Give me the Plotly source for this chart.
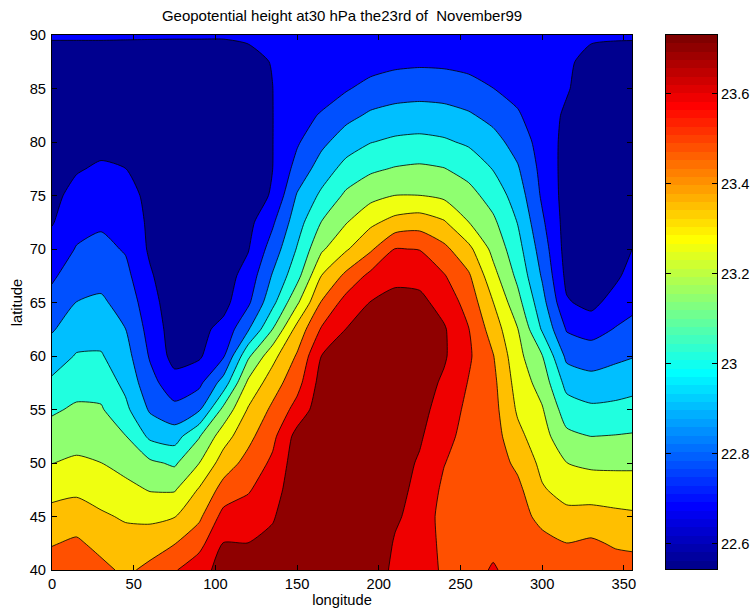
import numpy as np
import plotly.graph_objects as go

# ---------------- data ----------------
lon = [0, 15, 30, 45, 60, 75, 90, 105, 120, 135, 150, 165, 180,
       195, 210, 225, 240, 255, 270, 285, 300, 315, 330, 345, 355]
lat = [40, 42.5, 45, 47.5, 50, 52.5, 55, 57.5, 60, 62.5, 65, 67.5,
       70, 72.5, 75, 77.5, 80, 82.5, 85, 87.5, 90]

# geopotential height (km) per latitude row, columns follow `lon`
h40 = [23.560, 23.596, 23.532, 23.476, 23.531, 23.610, 23.691, 23.788, 23.800, 23.806, 23.836, 23.842, 23.848, 23.836, 23.704, 23.680, 23.602, 23.572, 23.632, 23.572, 23.566, 23.560, 23.560, 23.560, 23.554]
h42_5 = [23.492, 23.519, 23.464, 23.428, 23.445, 23.495, 23.580, 23.744, 23.741, 23.770, 23.830, 23.842, 23.848, 23.842, 23.728, 23.686, 23.590, 23.554, 23.590, 23.560, 23.536, 23.501, 23.520, 23.484, 23.475]
h45 = [23.420, 23.439, 23.397, 23.366, 23.354, 23.375, 23.476, 23.660, 23.675, 23.729, 23.824, 23.842, 23.848, 23.848, 23.758, 23.692, 23.578, 23.548, 23.572, 23.548, 23.465, 23.414, 23.421, 23.406, 23.398]
h47_5 = [23.343, 23.357, 23.328, 23.294, 23.253, 23.250, 23.391, 23.546, 23.609, 23.686, 23.818, 23.842, 23.848, 23.848, 23.776, 23.710, 23.596, 23.554, 23.566, 23.530, 23.392, 23.336, 23.328, 23.322, 23.319]
h50 = [23.258, 23.278, 23.261, 23.219, 23.162, 23.122, 23.258, 23.438, 23.540, 23.643, 23.806, 23.836, 23.848, 23.848, 23.788, 23.728, 23.624, 23.560, 23.560, 23.475, 23.349, 23.261, 23.237, 23.235, 23.236]
h52_5 = [23.193, 23.216, 23.206, 23.144, 22.995, 22.966, 23.130, 23.328, 23.466, 23.589, 23.782, 23.830, 23.842, 23.842, 23.800, 23.754, 23.662, 23.572, 23.554, 23.412, 23.309, 23.168, 23.139, 23.145, 23.151]
h55 = [23.123, 23.158, 23.152, 23.048, 22.884, 22.812, 22.883, 23.174, 23.390, 23.524, 23.663, 23.812, 23.830, 23.830, 23.806, 23.776, 23.692, 23.590, 23.542, 23.364, 23.270, 23.078, 23.043, 23.050, 23.062]
h57_5 = [23.040, 23.094, 23.092, 22.989, 22.820, 22.709, 22.750, 22.950, 23.283, 23.444, 23.577, 23.788, 23.812, 23.818, 23.812, 23.794, 23.722, 23.614, 23.530, 23.331, 23.211, 22.980, 22.944, 22.961, 22.977]
h60 = [22.964, 23.028, 23.030, 22.946, 22.768, 22.614, 22.643, 22.768, 23.117, 23.342, 23.513, 23.742, 23.782, 23.800, 23.812, 23.800, 23.754, 23.638, 23.506, 23.297, 23.145, 22.871, 22.842, 22.875, 22.893]
h62_5 = [22.889, 22.965, 22.973, 22.901, 22.737, 22.600, 22.626, 22.695, 22.886, 23.141, 23.422, 23.633, 23.742, 23.776, 23.800, 23.794, 23.752, 23.624, 23.444, 23.264, 23.007, 22.770, 22.736, 22.787, 22.810]
h65 = [22.823, 22.902, 22.918, 22.857, 22.706, 22.588, 22.612, 22.623, 22.758, 22.986, 23.240, 23.510, 23.666, 23.744, 23.776, 23.770, 23.697, 23.572, 23.382, 23.180, 22.943, 22.672, 22.624, 22.712, 22.751]
h67_5 = [22.761, 22.845, 22.864, 22.812, 22.674, 22.578, 22.600, 22.606, 22.706, 22.910, 23.098, 23.382, 23.528, 23.652, 23.711, 23.704, 23.628, 23.517, 23.300, 23.112, 22.887, 22.630, 22.606, 22.636, 22.706]
h70 = [22.706, 22.787, 22.811, 22.770, 22.642, 22.570, 22.588, 22.594, 22.652, 22.834, 23.028, 23.241, 23.366, 23.481, 23.624, 23.616, 23.529, 23.411, 23.226, 23.064, 22.844, 22.612, 22.590, 22.612, 22.659]
h72_5 = [22.652, 22.740, 22.763, 22.733, 22.638, 22.562, 22.576, 22.582, 22.624, 22.762, 22.968, 23.144, 23.253, 23.354, 23.420, 23.444, 23.392, 23.261, 23.163, 23.016, 22.800, 22.610, 22.582, 22.594, 22.612]
h75 = [22.630, 22.696, 22.719, 22.697, 22.634, 22.552, 22.564, 22.570, 22.600, 22.672, 22.910, 23.044, 23.162, 23.223, 23.261, 23.261, 23.235, 23.181, 23.091, 22.965, 22.762, 22.610, 22.576, 22.582, 22.588]
h77_5 = [22.612, 22.650, 22.676, 22.661, 22.612, 22.544, 22.552, 22.558, 22.582, 22.659, 22.821, 22.956, 23.061, 23.120, 23.148, 23.160, 23.144, 23.096, 23.015, 22.912, 22.744, 22.614, 22.576, 22.576, 22.576]
h80 = [22.594, 22.594, 22.624, 22.594, 22.552, 22.540, 22.546, 22.552, 22.576, 22.658, 22.766, 22.872, 22.961, 23.016, 23.042, 23.051, 23.036, 23.002, 22.942, 22.853, 22.728, 22.624, 22.576, 22.576, 22.574]
h82_5 = [22.588, 22.582, 22.594, 22.570, 22.552, 22.546, 22.546, 22.552, 22.582, 22.658, 22.750, 22.787, 22.865, 22.918, 22.942, 22.950, 22.941, 22.914, 22.864, 22.792, 22.714, 22.642, 22.582, 22.582, 22.578]
h85 = [22.594, 22.588, 22.588, 22.576, 22.564, 22.558, 22.558, 22.564, 22.600, 22.659, 22.732, 22.744, 22.768, 22.822, 22.845, 22.853, 22.847, 22.823, 22.781, 22.745, 22.700, 22.670, 22.600, 22.594, 22.590]
h87_5 = [22.612, 22.612, 22.612, 22.606, 22.600, 22.594, 22.594, 22.594, 22.636, 22.664, 22.708, 22.714, 22.714, 22.726, 22.752, 22.760, 22.756, 22.743, 22.726, 22.710, 22.686, 22.672, 22.636, 22.618, 22.614]
h90 = [22.672, 22.672, 22.672, 22.672, 22.672, 22.672, 22.672, 22.672, 22.672, 22.672, 22.672, 22.672, 22.672,
       22.672, 22.672, 22.672, 22.672, 22.672, 22.672, 22.672, 22.672, 22.672, 22.672, 22.672, 22.672]

height = [h40, h42_5, h45, h47_5, h50, h52_5, h55, h57_5, h60, h62_5, h65,
          h67_5, h70, h72_5, h75, h77_5, h80, h82_5, h85, h87_5, h90]

level_start, level_end, level_step = 22.66, 23.74, 0.12
cbar_min, cbar_max = 22.544, 23.731
x_ticks = [0, 50, 100, 150, 200, 250, 300, 350]
y_ticks = [40, 45, 50, 55, 60, 65, 70, 75, 80, 85, 90]
cbar_ticks = [22.6, 22.8, 23.0, 23.2, 23.4, 23.6]
cbar_labels = ["22.6", "22.8", "23", "23.2", "23.4", "23.6"]
title_text = "Geopotential height at30 hPa the23rd of \u00a0November99"

# ---------------- MATLAB jet(64) colormap ----------------
def jet(m=64):
    n = int(np.ceil(m / 4))
    u = np.concatenate([np.arange(1, n + 1) / n, np.ones(n - 1), np.arange(n, 0, -1) / n])
    g = int(np.ceil(n / 2)) - (1 if m % 4 == 1 else 0) + np.arange(1, len(u) + 1)
    r = g + n
    b = g - n
    J = np.zeros((m, 3))
    for ch, idxs in enumerate((r, g, b)):
        for i, v in zip(idxs, u):
            if 1 <= i <= m:
                J[i - 1, ch] = v
    return J

J = jet(64)
def rgb(c):
    return "rgb(%d,%d,%d)" % tuple(int(round(255 * v)) for v in c)

# colours of the 11 filled bands (jet indices, 1-based)
band_idx = [1, 8, 13, 20, 26, 33, 39, 44, 51, 57, 63]
fill_cs = [[j / 10, rgb(J[k - 1])] for j, k in enumerate(band_idx)]

# stepped 64-colour scale for the colour bar
step_cs = []
for i in range(64):
    step_cs.append([i / 64, rgb(J[i])])
    step_cs.append([(i + 1) / 64, rgb(J[i])])

edges = np.linspace(cbar_min, cbar_max, 65)
centers = (edges[:-1] + edges[1:]) / 2

FONT = "Liberation Sans, Arial, Helvetica, sans-serif"
TICKFONT = dict(family=FONT, size=14.7, color="black")

fig = go.Figure()
fig.add_trace(go.Contour(
    x=lon, y=lat, z=height,
    autocontour=False,
    contours=dict(start=level_start, end=level_end, size=level_step,
                  coloring="fill", showlines=True),
    line=dict(color="black", width=0.8, smoothing=0.6),
    colorscale=fill_cs, showscale=False, hoverinfo="skip",
    xaxis="x", yaxis="y"))

fig.add_trace(go.Heatmap(
    x=[0, 1], y=edges, z=[[c] for c in centers],
    zmin=cbar_min, zmax=cbar_max, colorscale=step_cs,
    showscale=False, hoverinfo="skip", xaxis="x2", yaxis="y2"))

axis_common = dict(showline=True, linecolor="black", linewidth=1,
                   ticks="inside", ticklen=5, tickcolor="black",
                   showgrid=False, zeroline=False, automargin=False,
                   tickfont=TICKFONT)

fig.update_layout(
    width=756, height=611,
    margin=dict(l=52, r=39, t=35, b=41),
    paper_bgcolor="white", plot_bgcolor="white",
    showlegend=False,
    title=dict(text=title_text, x=342 / 756, xanchor="center",
               y=1 - 16 / 611, yanchor="middle",
               xref="container", yref="container",
               font=dict(family=FONT, size=15, color="black")),
    xaxis=dict(domain=[0, 0.8722], range=[0, 355], tickvals=x_ticks,
               mirror="ticks", anchor="y",
               title=dict(text="longitude", standoff=4, font=TICKFONT),
               **axis_common),
    yaxis=dict(domain=[0, 1], range=[40, 90], tickvals=y_ticks,
               mirror="ticks", anchor="x", ticklabelstandoff=2,
               title=dict(text="latitude", standoff=3, font=TICKFONT),
               **axis_common),
    xaxis2=dict(domain=[0.9233, 1.0], range=[0, 1], anchor="y2",
                showticklabels=False, ticks="", showline=True, automargin=False,
                linecolor="black", mirror=True, showgrid=False, zeroline=False),
    yaxis2=dict(domain=[0.002, 1.0], range=[cbar_min, cbar_max], anchor="x2",
                side="right", tickvals=cbar_ticks, ticktext=cbar_labels,
                mirror="ticks", **axis_common),
)

fig.write_html("out.html")
